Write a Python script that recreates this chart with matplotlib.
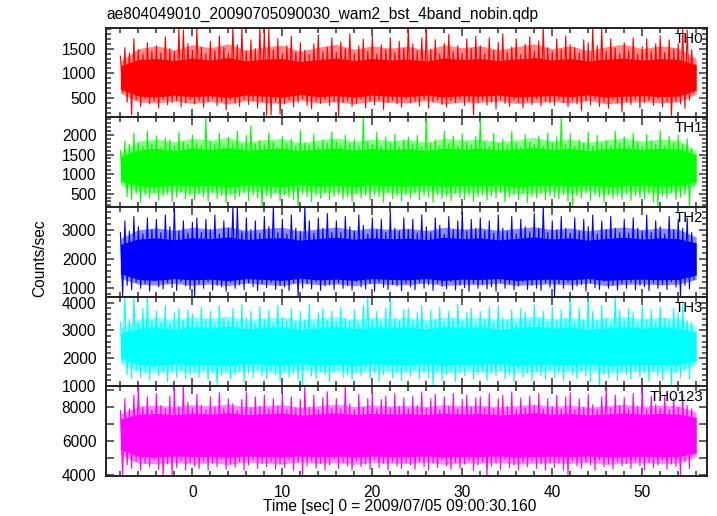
import numpy as np
import matplotlib
matplotlib.use("Agg")
import matplotlib.pyplot as plt
from matplotlib.ticker import MultipleLocator

plt.rcParams["font.family"] = ["Liberation Sans", "DejaVu Sans"]

title = "ae804049010_20090705090030_wam2_bst_4band_nobin.qdp"
xlabel = "Time [sec] 0 = 2009/07/05 09:00:30.160"
ylabel = "Counts/sec"
bands = ["TH0", "TH1", "TH2", "TH3", "TH0123"]
colors = ["#ff0000", "#00ff00", "#0000ff", "#00ffff", "#ff00ff"]

# light curve: alternating local maxima / minima,
# one max every 0.5 s starting at t = -8 s (min 0.25 s later)
t_start = -8.0
th0_hi = [1350, 1520, 1410, 1700, 1480, 1390, 1620, 1450, 1560, 1420, 1740, 1500, 1440, 1900, 1880, 1600,
          1470, 1910, 1530, 1400, 1650, 1460, 1760, 1520, 1410, 1920, 1580, 1900, 1450, 1680, 1500, 1920,
          1910, 1900, 1480, 1700, 1400, 1560, 1750, 1430, 1620, 1470, 1380, 1600, 1780, 1440, 1530, 1720,
          1420, 1640, 1500, 1800, 1400, 1560, 1690, 1450, 1760, 1390, 1580, 1480, 1720, 1420, 1650, 1510,
          1920, 1600, 1460, 1720, 1910, 1490, 1680, 1400, 1610, 1790, 1440, 1560, 1410, 1700, 1500, 1750,
          1560, 1400, 1720, 1470, 1630, 1800, 1430, 1540, 1700, 1380, 1590, 1740, 1450, 1660, 1920, 1520,
          1440, 1700, 1490, 1760, 1580, 1520, 1410, 1680, 1620, 1920, 1560, 1910, 1450, 1700, 1510, 1400,
          1620, 1460, 1720, 1390, 1540, 1700, 1450, 1600, 1760, 1420, 1680, 1490, 1600, 1910, 1880, 1480]
th0_lo = [620, 420, 160, 460, 330, 480, 380, 440, 300, 470, 360, 410, 450, 320, 400, 470,
          380, 450, 310, 420, 480, 350, 430, 260, 460, 390, 330, 470, 370, 440, 300, 420,
          150, 160, 430, 170, 380, 460, 320, 410, 480, 350, 280, 440, 390, 470, 350, 420,
          140, 410, 450, 330, 390, 480, 300, 430, 360, 460, 270, 410, 450, 380, 320, 470,
          400, 440, 340, 480, 300, 420, 460, 370, 320, 450, 410, 480, 350, 430, 160, 400,
          450, 360, 420, 280, 470, 390, 330, 460, 410, 300, 440, 370, 480, 340, 430, 400,
          350, 470, 410, 320, 450, 380, 250, 440, 360, 480, 330, 420, 290, 460, 400, 220,
          430, 370, 470, 300, 410, 450, 350, 480, 320, 420, 150, 440, 380, 290, 460, 600]

th1_hi = [1600, 1850, 1760, 2050, 1800, 1720, 2100, 1780, 1980, 1700, 1920, 1880, 1740, 2080, 1820, 1760,
          2000, 1790, 1730, 2460, 1840, 1770, 2050, 1710, 1950, 1800, 2100, 1750, 1990, 2240, 1780, 1860,
          1740, 2060, 1820, 1700, 1960, 1780, 1900, 1720, 2120, 1800, 1750, 2030, 1700, 1870, 1800, 2080,
          1830, 1740, 2000, 1790, 1900, 1710, 2460, 1840, 1760, 2070, 1720, 1950, 1800, 2020, 1700, 1880,
          1950, 1770, 1990, 1710, 2460, 1800, 1880, 1730, 2100, 1780, 1970, 1720, 2030, 1810, 1750, 1960,
          2400, 1830, 1710, 2050, 1790, 1900, 1740, 2090, 1800, 1700, 2010, 1820, 1760, 1980, 1720, 2060,
          1810, 1950, 2460, 1760, 2040, 1720, 1880, 1790, 2080, 1710, 1990, 1780, 1870, 1740, 2100, 1800,
          1960, 1730, 2050, 1810, 1710, 2020, 1840, 1770, 2110, 1720, 1970, 1790, 2000, 1750, 1900, 1650]
th1_lo = [800, 420, 350, 500, 280, 460, 390, 520, 330, 440, 480, 300, 410, 530, 370, 450,
          340, 490, 420, 300, 510, 380, 450, 260, 470, 360, 430, 500, 320, 460, 390, 160,
          440, 380, 520, 310, 470, 400, 350, 170, 490, 420, 300, 460, 380, 510, 340, 430,
          480, 360, 420, 290, 500, 390, 450, 330, 470, 410, 280, 520, 370, 440, 310, 460,
          390, 500, 340, 450, 410, 280, 480, 370, 430, 320, 510, 400, 350, 460, 300, 420,
          470, 330, 440, 380, 520, 290, 410, 460, 350, 490, 270, 430, 390, 500, 340, 450,
          410, 360, 480, 300, 170, 440, 390, 510, 330, 460, 420, 280, 470, 370, 430, 350,
          500, 320, 450, 400, 360, 490, 290, 180, 440, 380, 520, 340, 410, 470, 160, 700]

th2_hi = [2900, 3300, 2950, 3450, 3100, 2850, 3400, 3000, 3350, 2900, 3500, 3100, 3780, 2950, 3300, 2880,
          3250, 3400, 2900, 3350, 3000, 3500, 2850, 3300, 3050, 3780, 3780, 2920, 3400, 3000, 3300, 2870,
          3450, 3100, 3780, 2900, 3350, 2850, 3500, 3050, 2950, 3780, 3300, 2880, 3400, 3050, 3550, 2900,
          3300, 2900, 3450, 3100, 2950, 3500, 3150, 2850, 3400, 3000, 3350, 2900, 3600, 3050, 2950, 3400,
          3000, 3350, 2880, 3500, 3100, 2900, 3400, 3150, 2850, 3450, 3000, 3300, 3600, 2950, 3350, 3050,
          3400, 2950, 3300, 2880, 3500, 3050, 2950, 3450, 2850, 3350, 3100, 2920, 3550, 3050, 3780, 2900,
          3300, 3000, 3450, 3050, 2880, 3400, 2950, 3350, 3100, 3500, 2850, 3300, 3000, 3450, 3050, 2900,
          3350, 2880, 3400, 3050, 2950, 3500, 2900, 3300, 3100, 2850, 3450, 3000, 3350, 3050, 3400, 2900]
th2_lo = [750, 1100, 950, 1200, 1000, 1150, 900, 1250, 1050, 980, 1180, 1020, 930, 1220, 1080, 960,
          730, 1150, 1000, 1230, 940, 1100, 1050, 900, 1200, 1000, 1120, 950, 1180, 1060, 920, 1150,
          1020, 1200, 960, 1100, 1050, 920, 1180, 740, 1000, 1150, 980, 1220, 930, 1080, 1120, 960,
          1180, 1000, 1100, 940, 1220, 1050, 980, 1150, 900, 1200, 1030, 960, 1130, 1080, 920, 1170,
          1050, 950, 1200, 1000, 1120, 930, 1180, 1060, 980, 1230, 940, 1100, 1020, 900, 1160, 1000,
          1120, 980, 1050, 900, 1200, 1000, 1150, 950, 1080, 1220, 960, 1100, 1000, 930, 1180, 1040,
          740, 1150, 1000, 1200, 950, 1080, 1120, 900, 1180, 1020, 960, 1230, 1000, 1100, 940, 1160,
          1000, 1200, 950, 1100, 1050, 920, 1180, 1000, 1130, 960, 1220, 1040, 730, 1100, 980, 1300]

th3_hi = [3300, 4240, 3400, 4240, 3300, 3800, 4240, 3350, 3700, 3300, 3900, 3250, 3650, 3800, 3350, 3750,
          3600, 3300, 3850, 3400, 3700, 3250, 3900, 3450, 3350, 3800, 3300, 3950, 3450, 3700, 3250, 3850,
          3400, 3750, 3250, 3900, 3450, 3350, 3800, 3300, 3700, 3400, 3950, 3250, 3650, 3800, 3350, 3700,
          3300, 3850, 3450, 3350, 3750, 3250, 3900, 4240, 3400, 3700, 3300, 3800, 4240, 3450, 3350, 3750,
          3800, 3350, 3650, 3900, 3250, 3750, 3400, 3850, 3300, 3700, 3450, 3950, 3350, 3650, 3800, 3250,
          3700, 3400, 3850, 3300, 3900, 3450, 3350, 3750, 3250, 3800, 3650, 3350, 3950, 3450, 3700, 3300,
          3850, 3350, 3750, 3450, 4240, 3300, 3800, 3400, 4240, 3700, 3350, 3900, 3450, 3250, 4240, 3750,
          3350, 3800, 3650, 3250, 3900, 3400, 3750, 3300, 3850, 3450, 3350, 3800, 3650, 3950, 3350, 3300]
th3_lo = [1900, 1400, 1250, 1550, 1300, 1450, 1200, 1600, 1350, 1500, 1150, 1450, 1300, 1550, 1250, 1400,
          1500, 1300, 1600, 1200, 1450, 990, 1350, 1550, 1250, 1400, 1500, 1150, 1450, 1300, 1600, 1350,
          1250, 1500, 1400, 1150, 1550, 1300, 1450, 1200, 990, 1600, 1350, 1250, 1500, 1400, 1150, 1450,
          1550, 1300, 1400, 1200, 1500, 1350, 1600, 1250, 1450, 1150, 1400, 1550, 1300, 1450, 1200, 1500,
          1350, 1600, 1250, 1450, 1300, 990, 1550, 1200, 1400, 1500, 1150, 1450, 1350, 1600, 1250, 1400,
          1500, 1200, 1450, 1350, 1550, 1250, 1400, 1150, 1600, 1300, 1450, 1200, 1500, 1350, 1250, 1550,
          1300, 1450, 1200, 1550, 1400, 1250, 1500, 1350, 1150, 1600, 990, 1400, 1300, 1500, 1200, 1450,
          1400, 1250, 1550, 1300, 1450, 1150, 1500, 1350, 1200, 1600, 990, 1450, 1300, 1550, 1250, 1800]

th0123_hi = [7800, 8500, 7900, 8700, 9240, 8000, 8600, 7850, 8800, 8100, 7900, 8650, 9240, 8050, 9240, 8300,
             7950, 8750, 8100, 7850, 8600, 8000, 8850, 7900, 8500, 8200, 7800, 8450, 8900, 7950, 8600, 8050,
             8700, 7900, 8500, 8050, 8800, 7850, 8600, 7950, 8450, 9240, 8000, 8700, 7850, 8550, 8900, 7950,
             8500, 7900, 9240, 8200, 7850, 8750, 8000, 8500, 8850, 7900, 8450, 8650, 7950, 8800, 8050, 8550,
             7900, 8650, 8100, 8900, 7950, 8500, 8750, 7850, 8600, 8050, 8800, 7900, 8450, 8700, 8000, 8550,
             8600, 7950, 8800, 7900, 8500, 8700, 8050, 8900, 7850, 8550, 7950, 8650, 8100, 8800, 7900, 8500,
             8050, 8700, 7900, 8600, 8850, 7850, 8500, 8000, 8750, 8150, 7850, 8600, 9240, 7950, 8700, 8100,
             8550, 7900, 8800, 8050, 9240, 7850, 8650, 8150, 7950, 8700, 7850, 8500, 8000, 8750, 8100, 7900]
th0123_lo = [3970, 4600, 4400, 4800, 4300, 4700, 4500, 4900, 4350, 3970, 4650, 3970, 4450, 4850, 4300, 4750,
             4550, 4400, 4850, 4300, 4700, 4500, 4950, 4350, 4650, 4450, 4800, 4300, 4600, 4900, 4400, 4700,
             4500, 4800, 4350, 4650, 4450, 4900, 4300, 4750, 3970, 4550, 4850, 4400, 4700, 4300, 4600, 4950,
             4400, 4750, 4550, 4300, 4850, 4500, 4650, 4350, 4900, 4450, 4700, 4300, 4800, 4550, 4400, 4750,
             4600, 4350, 4800, 4500, 4300, 4700, 4450, 4900, 4550, 4350, 4750, 4400, 4650, 4850, 4300, 4600,
             4800, 3970, 4550, 4700, 4350, 4900, 4450, 4600, 4300, 4750, 4500, 4850, 4400, 4650, 4300, 4700,
             4450, 4700, 4300, 3970, 4850, 4550, 4400, 4750, 4600, 4300, 4900, 4500, 4650, 4350, 4800, 4550,
             4700, 4400, 4850, 4550, 4300, 4750, 4450, 4600, 4900, 4350, 4650, 4500, 3970, 4800, 4400, 5300]

# band envelopes every 2 s from -8 s to 56 s: solid core and the denser fringe
env_t = np.arange(-8, 57, 2)
th0_core_hi = [1150, 1280, 1300, 1260, 1310, 1270, 1320, 1250, 1290, 1300, 1240, 1280, 1310, 1260, 1300, 1270, 1290,
               1250, 1310, 1280, 1300, 1260, 1290, 1320, 1270, 1300, 1250, 1290, 1310, 1270, 1300, 1280, 1180]
th0_core_lo = [680, 540, 520, 560, 530, 550, 510, 560, 540, 520, 570, 530, 550, 520, 560, 540, 530,
               560, 520, 550, 540, 560, 520, 540, 550, 530, 560, 520, 540, 550, 530, 540, 660]
th0_fr_hi = [1250, 1500, 1560, 1480, 1580, 1520, 1600, 1470, 1540, 1570, 1450, 1530, 1590, 1490, 1560, 1510, 1550,
             1470, 1580, 1520, 1560, 1480, 1540, 1600, 1500, 1560, 1460, 1540, 1590, 1500, 1560, 1520, 1300]
th0_fr_lo = [600, 420, 400, 440, 390, 430, 380, 450, 410, 390, 460, 400, 430, 380, 440, 410, 400,
             450, 380, 420, 410, 440, 390, 410, 430, 400, 450, 380, 410, 430, 400, 420, 580]

th1_core_hi = [1450, 1620, 1660, 1600, 1670, 1630, 1680, 1610, 1650, 1660, 1600, 1640, 1670, 1620, 1660, 1630, 1650,
               1610, 1670, 1640, 1660, 1620, 1650, 1680, 1630, 1660, 1600, 1650, 1670, 1630, 1660, 1640, 1500]
th1_core_lo = [820, 700, 680, 720, 690, 710, 670, 720, 700, 680, 730, 690, 710, 680, 720, 700, 690,
               720, 680, 710, 700, 720, 680, 700, 710, 690, 720, 680, 700, 710, 690, 700, 800]
th1_fr_hi = [1550, 1850, 1900, 1830, 1920, 1870, 1940, 1820, 1890, 1910, 1800, 1880, 1930, 1840, 1900, 1860, 1890,
             1820, 1920, 1870, 1900, 1830, 1880, 1940, 1850, 1900, 1810, 1880, 1930, 1850, 1900, 1870, 1600]
th1_fr_lo = [720, 540, 520, 560, 510, 550, 500, 570, 530, 510, 580, 520, 550, 500, 560, 530, 520,
             570, 500, 540, 530, 560, 510, 530, 550, 520, 570, 500, 530, 550, 520, 540, 720]

th2_core_hi = [2500, 2680, 2720, 2650, 2730, 2690, 2750, 2660, 2710, 2730, 2640, 2700, 2740, 2670, 2720, 2690, 2710,
               2660, 2740, 2690, 2720, 2650, 2700, 2750, 2680, 2720, 2640, 2700, 2740, 2680, 2720, 2690, 2550]
th2_core_lo = [1500, 1300, 1270, 1330, 1290, 1310, 1260, 1330, 1300, 1270, 1340, 1290, 1310, 1270, 1330, 1300, 1290,
               1330, 1270, 1310, 1300, 1330, 1270, 1300, 1310, 1290, 1330, 1270, 1300, 1310, 1290, 1300, 1450]
th2_fr_hi = [2700, 3000, 3060, 2980, 3080, 3020, 3100, 2970, 3040, 3080, 2950, 3030, 3090, 2990, 3060, 3010, 3050,
             2970, 3080, 3020, 3060, 2980, 3040, 3100, 3000, 3060, 2960, 3040, 3090, 3000, 3060, 3020, 2750]
th2_fr_lo = [1350, 1140, 1110, 1170, 1100, 1150, 1090, 1180, 1130, 1100, 1190, 1120, 1150, 1090, 1170, 1130, 1120,
             1180, 1090, 1140, 1130, 1170, 1100, 1130, 1150, 1120, 1180, 1090, 1130, 1150, 1120, 1140, 1300]

th3_core_hi = [2900, 3080, 3120, 3050, 3130, 3090, 3150, 3060, 3110, 3130, 3040, 3100, 3140, 3070, 3120, 3090, 3110,
               3060, 3140, 3090, 3120, 3050, 3100, 3150, 3080, 3120, 3040, 3100, 3140, 3080, 3120, 3090, 2950]
th3_core_lo = [2000, 1770, 1740, 1800, 1760, 1780, 1730, 1800, 1770, 1740, 1810, 1760, 1780, 1740, 1800, 1770, 1760,
               1800, 1740, 1780, 1770, 1800, 1740, 1770, 1780, 1760, 1800, 1740, 1770, 1780, 1760, 1770, 1900]
th3_fr_hi = [3100, 3420, 3480, 3400, 3500, 3440, 3520, 3390, 3460, 3500, 3370, 3450, 3510, 3410, 3480, 3430, 3470,
             3390, 3500, 3440, 3480, 3400, 3460, 3520, 3420, 3480, 3380, 3460, 3510, 3420, 3480, 3440, 3150]
th3_fr_lo = [1800, 1520, 1480, 1550, 1470, 1530, 1460, 1560, 1500, 1470, 1570, 1490, 1530, 1460, 1550, 1500, 1490,
             1560, 1460, 1520, 1500, 1550, 1470, 1500, 1530, 1490, 1560, 1460, 1500, 1530, 1490, 1520, 1750]

th0123_core_hi = [7300, 7580, 7630, 7550, 7650, 7590, 7670, 7560, 7610, 7650, 7530, 7600, 7660, 7570, 7630, 7590, 7610,
                  7560, 7650, 7590, 7630, 7550, 7600, 7670, 7580, 7630, 7540, 7600, 7660, 7580, 7630, 7590, 7400]
th0123_core_lo = [5500, 5110, 5070, 5140, 5090, 5120, 5060, 5140, 5100, 5070, 5150, 5090, 5120, 5070, 5140, 5100, 5090,
                  5140, 5070, 5110, 5100, 5140, 5070, 5100, 5120, 5090, 5140, 5070, 5100, 5120, 5090, 5100, 5300]
th0123_fr_hi = [7600, 8050, 8130, 8020, 8150, 8080, 8180, 8030, 8100, 8150, 7990, 8090, 8170, 8040, 8120, 8070, 8110,
                8030, 8150, 8080, 8120, 8020, 8090, 8180, 8050, 8120, 8000, 8090, 8160, 8050, 8120, 8080, 7700]
th0123_fr_lo = [5200, 4720, 4670, 4760, 4650, 4740, 4630, 4780, 4700, 4660, 4790, 4690, 4740, 4640, 4770, 4700, 4690,
                4780, 4640, 4720, 4700, 4760, 4660, 4700, 4740, 4690, 4780, 4640, 4700, 4740, 4690, 4720, 5100]

his = [th0_hi, th1_hi, th2_hi, th3_hi, th0123_hi]
los = [th0_lo, th1_lo, th2_lo, th3_lo, th0123_lo]
core_his = [th0_core_hi, th1_core_hi, th2_core_hi, th3_core_hi, th0123_core_hi]
core_los = [th0_core_lo, th1_core_lo, th2_core_lo, th3_core_lo, th0123_core_lo]
fr_his = [th0_fr_hi, th1_fr_hi, th2_fr_hi, th3_fr_hi, th0123_fr_hi]
fr_los = [th0_fr_lo, th1_fr_lo, th2_fr_lo, th3_fr_lo, th0123_fr_lo]

ylims = [(110, 1925), (160, 2455), (720, 3775), (985, 4232), (3975, 9235)]
major = [500, 500, 1000, 1000, 2000]
minor = [100, 100, 200, 200, 1000]

fig = plt.figure(figsize=(7.17, 5.16), dpi=100)
gs = fig.add_gridspec(5, 1, left=106 / 717, right=707 / 717,
                      top=1 - 27.7 / 516, bottom=1 - 475.7 / 516, hspace=0)

for i in range(5):
    ax = fig.add_subplot(gs[i])
    y = np.column_stack([his[i], los[i]]).ravel()
    t = t_start + 0.25 * np.arange(len(y))
    ax.fill_between(env_t, fr_los[i], fr_his[i], color=colors[i], alpha=0.45, lw=0)
    ax.fill_between(env_t, core_los[i], core_his[i], color=colors[i], lw=0)
    ax.plot(t, y, color=colors[i], lw=0.8)
    ax.text(0.993, 0.955, bands[i], transform=ax.transAxes, ha="right", va="top", fontsize=10.8)

    ax.set_xlim(-9.6, 57.2)
    ax.set_ylim(*ylims[i])
    ax.xaxis.set_major_locator(MultipleLocator(10))
    ax.xaxis.set_minor_locator(MultipleLocator(2))
    ax.yaxis.set_major_locator(MultipleLocator(major[i]))
    ax.yaxis.set_minor_locator(MultipleLocator(minor[i]))
    ax.tick_params(which="both", direction="in", top=True, right=True,
                   color="#444444", width=1.2, labelsize=11.2)
    ax.tick_params(which="major", length=6, pad=7)
    ax.tick_params(which="minor", length=3.5)
    if i == 4:
        ax.tick_params(axis="y", which="minor", length=6)
    for s in ax.spines.values():
        s.set_linewidth(1.4)
        s.set_color("#222222")
    if i < 4:
        ax.tick_params(labelbottom=False)

fig.text(106 / 717, 1 - 14 / 516, title, ha="left", va="center", fontsize=11.2)
fig.text(40 / 717, 0.5, ylabel, rotation=90, ha="center", va="center", fontsize=11.2)
fig.text(400 / 717, 1 - 507 / 516, xlabel, ha="center", va="center", fontsize=11.2)

fig.savefig("out.png", dpi=100)
